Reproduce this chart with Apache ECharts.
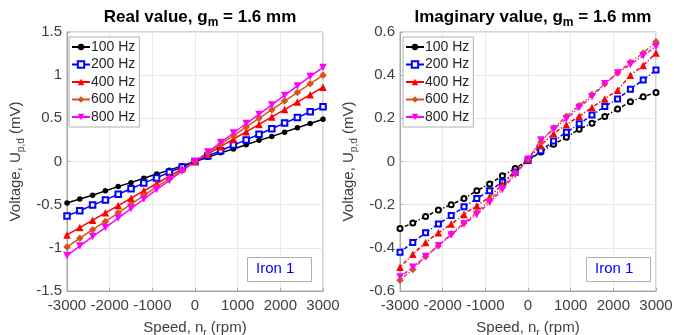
<!DOCTYPE html>
<html><head><meta charset="utf-8">
<script src="https://cdn.jsdelivr.net/npm/echarts@6/dist/echarts.min.js"></script>
<style>html,body{margin:0;padding:0;background:#fff}#c{width:674px;height:335px}</style>
</head><body><div id="c"></div>
<script>
const speeds = [-3000,-2700,-2400,-2100,-1800,-1500,-1200,-900,-600,-300,0,300,600,900,1200,1500,1800,2100,2400,2700,3000];
const seriesNames = ['100 Hz','200 Hz','400 Hz','600 Hz','800 Hz'];
// Real value (mV)
const real100 = [-0.48,-0.435,-0.39,-0.34,-0.29,-0.245,-0.195,-0.145,-0.1,-0.05,0,0.05,0.1,0.145,0.195,0.245,0.29,0.34,0.39,0.44,0.49];
const real200 = [-0.63,-0.57,-0.505,-0.445,-0.38,-0.315,-0.25,-0.19,-0.125,-0.065,0,0.065,0.125,0.19,0.25,0.315,0.38,0.445,0.51,0.575,0.635];
const real400 = [-0.85,-0.765,-0.68,-0.595,-0.51,-0.425,-0.34,-0.255,-0.17,-0.085,0,0.086,0.172,0.258,0.344,0.43,0.516,0.602,0.688,0.774,0.86];
const real600 = [-0.99,-0.89,-0.79,-0.695,-0.595,-0.495,-0.395,-0.295,-0.2,-0.1,0,0.1,0.2,0.3,0.4,0.5,0.6,0.7,0.8,0.9,1.0];
const real800 = [-1.09,-0.98,-0.87,-0.765,-0.655,-0.545,-0.435,-0.325,-0.22,-0.11,0,0.11,0.22,0.33,0.44,0.545,0.655,0.765,0.875,0.985,1.09];
// Imaginary value (mV)
const imag100 = [-0.31,-0.285,-0.255,-0.225,-0.2,-0.172,-0.135,-0.104,-0.066,-0.032,0.005,0.044,0.08,0.112,0.15,0.177,0.209,0.243,0.277,0.3,0.32];
const imag200 = [-0.42,-0.375,-0.33,-0.29,-0.25,-0.21,-0.172,-0.135,-0.095,-0.05,0.005,0.05,0.095,0.135,0.175,0.215,0.255,0.29,0.335,0.378,0.424];
const imag400 = [-0.49,-0.43,-0.375,-0.33,-0.29,-0.245,-0.205,-0.165,-0.104,-0.045,0.01,0.075,0.13,0.17,0.21,0.25,0.29,0.33,0.4,0.445,0.503];
const imag600 = [-0.55,-0.5,-0.44,-0.39,-0.335,-0.285,-0.235,-0.18,-0.12,-0.055,0.01,0.09,0.155,0.21,0.26,0.31,0.36,0.41,0.46,0.503,0.555];
const imag800 = [-0.535,-0.49,-0.44,-0.39,-0.34,-0.29,-0.245,-0.19,-0.13,-0.06,0.01,0.1,0.15,0.197,0.25,0.3,0.36,0.41,0.45,0.49,0.533];
const realTicks = {min:-1.5, max:1.5, interval:0.5};
const imagTicks = {min:-0.6, max:0.6, interval:0.2};
const xTicks = {min:-3000, max:3000, interval:1000};

const colors = ['#000000','#0000ff','#ff0000','#d95319','#ff00ff'];
const FONT = 'Liberation Sans, Arial, sans-serif';
const symbols = [
  {left:{symbol:'circle', size:5.5}, right:{symbol:'emptyCircle', size:5}},
  {left:{symbol:'emptyRect', size:5.5}, right:{symbol:'emptyRect', size:5}},
  {left:{symbol:'triangle', size:7.5}, right:{symbol:'triangle', size:7.5}},
  {left:{symbol:'diamond', size:7.5}, right:{symbol:'diamond', size:7.5}},
  {left:{symbol:'triangle', size:7.5, rot:180}, right:{symbol:'triangle', size:7.5, rot:180}}
];
const realData = [real100, real200, real400, real600, real800];
const imagData = [imag100, imag200, imag400, imag600, imag800];

function mkSeries(arrs, idx, side, dashed){
  return arrs.map((vals, i) => {
    const s = symbols[i][side];
    return {
      name: seriesNames[i], type:'line', xAxisIndex: idx, yAxisIndex: idx,
      data: speeds.map((x, k) => [x, vals[k]]),
      symbol: s.symbol, symbolSize: s.size, symbolRotate: s.rot || 0,
      color: colors[i],
      itemStyle: {borderWidth: 1},
      lineStyle: {width: 1.5, type: dashed ? [4,2,1.2,2] : 'solid', dashOffset: dashed ? 4 : 0}
    };
  });
}

const tickLabel = {color:'#404040', fontSize:15, fontFamily: FONT, formatter: v => String(v)};
function xAxis(gi){
  return {type:'value', gridIndex: gi, min:xTicks.min, max:xTicks.max, interval:xTicks.interval,
    name:'Speed, n{sub|r} (rpm)', nameLocation:'middle', nameGap:22,
    nameTextStyle:{color:'#404040', fontSize:15, fontFamily:FONT, lineHeight:20,
      rich:{sub:{fontSize:10, color:'#404040', fontFamily:FONT, verticalAlign:'bottom', lineHeight:20}}},
    axisLine:{show:true, onZero:false, lineStyle:{color:'#a8a8a8'}},
    axisTick:{show:true, inside:true, length:3, lineStyle:{color:'#a8a8a8'}},
    axisLabel:Object.assign({margin:7}, tickLabel),
    splitLine:{show:true, lineStyle:{color:'#e8e8e8'}}};
}
function yAxis(gi, t){
  return {type:'value', gridIndex: gi, min:t.min, max:t.max, interval:t.interval,
    name:'Voltage, U{sub|p,d} (mV)', nameLocation:'middle', nameGap: 41,
    nameTextStyle:{color:'#404040', fontSize:15, fontFamily:FONT, lineHeight:20,
      rich:{sub:{fontSize:10, color:'#404040', fontFamily:FONT, verticalAlign:'bottom', lineHeight:20}}},
    axisLine:{show:true, onZero:false, lineStyle:{color:'#a8a8a8'}},
    axisTick:{show:true, inside:true, length:3, lineStyle:{color:'#a8a8a8'}},
    axisLabel:Object.assign({margin:5}, tickLabel),
    splitLine:{show:true, lineStyle:{color:'#e8e8e8'}}};
}
function legend(left){
  return {show:true, orient:'vertical', left:left, top:37, data: seriesNames.slice(),
    backgroundColor:'#ffffff', borderColor:'#b0b0b0', borderWidth:1, padding:[3,4,3,2],
    itemWidth:18, itemHeight:8, itemGap:3.5,
    textStyle:{color:'#262626', fontSize:14, fontFamily:FONT, padding:[0,0,0,-4]},
    selectedMode:false};
}
const titleRich = {sub:{fontSize:12, fontWeight:'bold', color:'#000', fontFamily:FONT, verticalAlign:'bottom', lineHeight:24}};

const chart = echarts.init(document.getElementById('c'), null, {renderer:'canvas'});
const leftSeries = mkSeries(realData, 0, 'left', false);
const rightSeries = mkSeries(imagData, 1, 'right', true);
chart.setOption({
  animation:false,
  backgroundColor:'#ffffff',
  title:[
    {text:'Real value, g{sub|m} = 1.6 mm', left:195, top:0, textAlign:'center',
     textStyle:{fontSize:17, fontWeight:'bold', color:'#000', fontFamily:FONT, lineHeight:24, rich:titleRich}},
    {text:'Imaginary value, g{sub|m} = 1.6 mm', left:528, top:0, textAlign:'center',
     textStyle:{fontSize:17, fontWeight:'bold', color:'#000', fontFamily:FONT, lineHeight:24, rich:titleRich}}
  ],
  grid:[
    {left:67, top:32, width:256, height:259, show:true, borderColor:'#a8a8a8', borderWidth:1, outerBoundsMode:'none', containLabel:false},
    {left:400, top:32, width:256, height:259, show:true, borderColor:'#a8a8a8', borderWidth:1, outerBoundsMode:'none', containLabel:false}
  ],
  xAxis:[xAxis(0), xAxis(1)],
  yAxis:[yAxis(0, realTicks), yAxis(1, imagTicks)],
  legend:[legend(69), legend(403)],
  series: leftSeries.concat(rightSeries),
  graphic:[
    {type:'rect', left:247, top:257, shape:{width:64, height:24}, style:{fill:'#fff', stroke:'#b0b0b0', lineWidth:1}, z:100},
    {type:'text', left:256, top:261, style:{text:'Iron 1', fill:'#0000ff', fontSize:15, fontFamily:FONT}, z:101},
    {type:'rect', left:586, top:257, shape:{width:64, height:24}, style:{fill:'#fff', stroke:'#b0b0b0', lineWidth:1}, z:100},
    {type:'text', left:595, top:261, style:{text:'Iron 1', fill:'#0000ff', fontSize:15, fontFamily:FONT}, z:101}
  ]
});
</script></body></html>
